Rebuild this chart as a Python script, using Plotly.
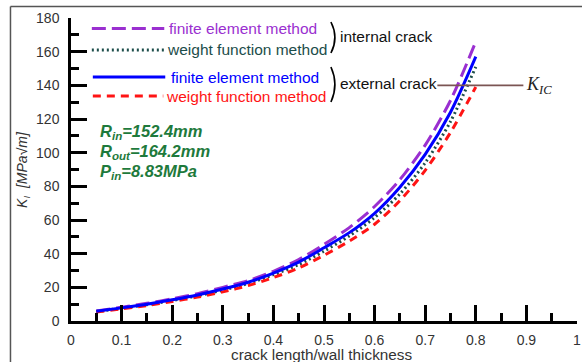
import plotly.graph_objects as go

# crack depth ratio a/t and stress intensity factor K_I [MPa*sqrt(m)]
ratio = [0.05, 0.10, 0.15, 0.20, 0.25, 0.30, 0.35, 0.40,
         0.45, 0.50, 0.55, 0.60, 0.65, 0.70, 0.75, 0.80]
int_fem = [6.0, 8.2, 10.5, 13.2, 16.2, 20.0, 24.0, 29.5,
           36.5, 45.5, 55.5, 68.0, 84.0, 104.5, 131.0, 166.0]
int_wfm = [5.6, 7.6, 9.7, 12.2, 15.0, 18.3, 22.3, 27.5,
           33.5, 41.5, 50.5, 61.5, 75.5, 94.0, 118.5, 151.0]
ext_fem = [5.8, 7.8, 10.0, 12.6, 15.5, 19.0, 23.0, 28.5,
           35.0, 43.5, 52.5, 64.0, 79.5, 99.0, 124.0, 157.0]
ext_wfm = [5.4, 7.2, 9.2, 11.6, 14.2, 17.3, 21.0, 25.8,
           31.5, 39.0, 47.5, 57.5, 71.5, 89.5, 112.0, 139.0]

K_IC = 140.0
kic_span = [0.724, 0.894]

x_ticks = [0, 0.1, 0.2, 0.3, 0.4, 0.5, 0.6, 0.7, 0.8, 0.9, 1]
x_tick_text = ["0", "0.1", "0.2", "0.3", "0.4", "0.5", "0.6", "0.7", "0.8", "0.9", "1"]
y_ticks = list(range(0, 181, 20))

PURPLE = "#9a2fd0"
DKGREEN = "#1c4d4a"
BLUE = "#0000ff"
RED = "#ff1414"
PARAM_GREEN = "#1e7a3c"

series = [
    ("finite element method (internal)", int_fem, PURPLE, "14px,6px"),
    ("weight function method (internal)", int_wfm, DKGREEN, "2px,3px"),
    ("weight function method (external)", ext_wfm, RED, "8px,6px"),
    ("finite element method (external)", ext_fem, BLUE, "solid"),
]

fig = go.Figure()
for name, vals, color, dash in series:
    fig.add_trace(go.Scatter(x=ratio, y=vals, mode="lines", name=name,
                             line=dict(color=color, width=3, dash=dash,
                                       shape="spline", smoothing=0.8)))

# plot-area geometry in pixels (for placing the hand-made key)
L, T, W, H = 71, 18, 510, 303


def px(xp):
    return (xp - L) / W


def py(yp):
    return (T + H - yp) / H


shapes = []
annotations = []
SANS = "Liberation Sans, Arial"

# key entries: sample line + label
key = [
    (28.5, 92, 165, PURPLE, "14px,6px", "finite element method", 168),
    (50, 92, 166, DKGREEN, "2px,3px", "weight function method", 166),
    (77, 93, 166, BLUE, "solid", "finite element method", 170),
    (96, 93, 164, RED, "8px,6px", "weight function method", 165),
]
for yk, x0, x1, color, dash, label, xt in key:
    shapes.append(dict(type="line", xref="paper", yref="paper",
                       x0=px(x0), x1=px(x1), y0=py(yk), y1=py(yk),
                       line=dict(color=color, width=3, dash=dash)))
    annotations.append(dict(x=px(xt), y=py(yk), xref="paper", yref="paper",
                            text=label, showarrow=False, xanchor="left",
                            yanchor="middle",
                            font=dict(family=SANS, size=15.5, color=color)))

# brackets grouping the key entries
for ytop, ybot, label in [(22, 53, "internal crack"), (67, 102, "external crack")]:
    ym = (ytop + ybot) / 2
    shapes.append(dict(type="path", xref="paper", yref="paper",
                       path=f"M {px(333)},{py(ytop)} Q {px(341)},{py(ym)} {px(333)},{py(ybot)}",
                       line=dict(color="black", width=1.6)))
    annotations.append(dict(x=px(340), y=py(ym - 1), xref="paper", yref="paper",
                            text=label, showarrow=False, xanchor="left",
                            yanchor="middle",
                            font=dict(family=SANS, size=15.5, color="#111111")))

# fracture toughness level
shapes.append(dict(type="line", xref="x", yref="y",
                   x0=kic_span[0], x1=kic_span[1], y0=K_IC, y1=K_IC,
                   line=dict(color="#7b5553", width=1.8)))
annotations.append(dict(x=kic_span[1], y=K_IC, xref="x", yref="y",
                        text="<i>K<sub>IC</sub></i>", showarrow=False,
                        xanchor="left", yanchor="middle", xshift=1,
                        font=dict(family="Liberation Serif, Times New Roman",
                                  size=18, color="#222222")))

# loading / geometry parameters
params = [(132, "R<sub>in</sub>=152.4mm"), (152, "R<sub>out</sub>=164.2mm"),
          (172, "P<sub>in</sub>=8.83MPa")]
for yk, txt in params:
    annotations.append(dict(x=px(98), y=py(yk), xref="paper", yref="paper",
                            text=f"<b><i>{txt}</i></b>", showarrow=False,
                            xanchor="left", yanchor="middle",
                            font=dict(family=SANS, size=16.5, color=PARAM_GREEN)))

# axis titles
annotations.append(dict(x=px(22), y=0.5, xref="paper", yref="paper",
                        text="<i>K<sub>I</sub>  [MPa√m]</i>", textangle=-90,
                        showarrow=False, xanchor="center", yanchor="middle",
                        font=dict(family=SANS, size=14, color="#333333")))
annotations.append(dict(x=px(323), y=py(354), xref="paper", yref="paper",
                        text="crack length/wall thickness", showarrow=False,
                        xanchor="center", yanchor="middle",
                        font=dict(family=SANS, size=15.3, color="#333333")))

# outer frame of the figure
shapes.append(dict(type="line", xref="paper", yref="paper",
                   x0=px(10), x1=px(600), y0=py(6.5), y1=py(6.5),
                   line=dict(color="#555555", width=1.5)))
shapes.append(dict(type="line", xref="paper", yref="paper",
                   x0=px(10), x1=px(10), y0=py(6.5), y1=py(380),
                   line=dict(color="#555555", width=1.5)))

axis_font = dict(family=SANS, size=14, color="#333333")

fig.update_layout(
    width=582, height=362,
    margin=dict(l=L, r=582 - L - W, t=T, b=362 - T - H),
    paper_bgcolor="white", plot_bgcolor="white",
    showlegend=False,
    shapes=shapes, annotations=annotations,
    xaxis=dict(range=[0, 1], tickvals=x_ticks, ticktext=x_tick_text,
               showgrid=False, zeroline=False, showline=True,
               linecolor="black", linewidth=2.5,
               ticks="inside", ticklen=16, tickwidth=2.5, tickcolor="black",
               minor=dict(dtick=0.05, ticks="inside", ticklen=8, tickwidth=2.5,
                          tickcolor="black", showgrid=False),
               tickfont=axis_font, ticklabelstandoff=4,
               ticklabeloverflow="allow"),
    yaxis=dict(range=[0, 180], tickvals=y_ticks,
               showgrid=False, zeroline=False, showline=True,
               linecolor="black", linewidth=2.5,
               ticks="inside", ticklen=16, tickwidth=2.5, tickcolor="black",
               minor=dict(dtick=10, ticks="inside", ticklen=8, tickwidth=2.5,
                          tickcolor="black", showgrid=False),
               tickfont=axis_font, ticklabelstandoff=6),
)

fig.write_html("out.html")
